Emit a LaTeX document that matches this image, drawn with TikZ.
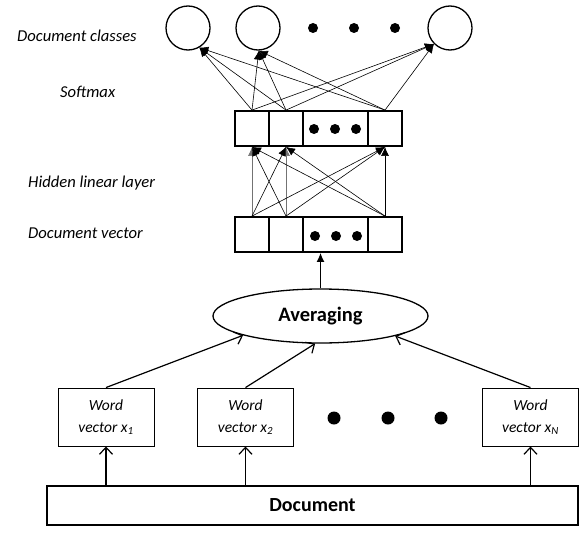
\documentclass[tikz,border=0pt]{standalone}
\usepackage{fontspec}
\setmainfont{Carlito}
\usepackage{tikz}
\usetikzlibrary{arrows.meta}
\usetikzlibrary{shapes}
\usetikzlibrary{positioning}

\tikzset{
  layerlabel/.style={anchor=west, inner sep=0pt, font=\itshape\fontsize{16.6}{18}\selectfont},
  classnode/.style={draw, circle, line width=1.3pt, minimum size=44pt, inner sep=0pt},
  layerbox/.style={draw, line width=1.8pt, minimum width=167pt, minimum height=35pt, inner sep=0pt},
  cell/.style={draw, line width=1.8pt, minimum width=34pt, minimum height=35pt, inner sep=0pt},
  wordbox/.style={draw, line width=0.9pt, minimum width=96pt, minimum height=58pt, inner sep=0pt,
    align=center, font=\itshape\fontsize{15.5}{22}\selectfont},
  thinarrow/.style={line width=0.6pt, -{Latex[length=9pt,width=8pt]}},
  openarrow/.style={line width=1.2pt, -{Straight Barb[length=7pt,width=13pt,line width=1.2pt]}},
}

\begin{document}
\begin{tikzpicture}[x=1pt,y=-1pt]

  \useasboundingbox (0,0) rectangle (585,532);

  % Layer names on the left
  \node[layerlabel] (lclasses) at (17,36) {Document classes};
  \node[layerlabel] (lsoftmax) at (60,92) {Softmax};
  \node[layerlabel] (lhidden) at (28,183) {Hidden linear layer};
  \node[layerlabel] (ldocvec) at (28,233) {Document vector};

  % Document classes
  \node[classnode] (c1) at (188,28) {};
  \node[classnode] (c2) at (258,28) {};
  \node[classnode] (c3) at (450,28) {};
  \fill (313,28) circle (5) (354,28) circle (5) (395,28) circle (5);

  % Hidden linear layer
  \node[layerbox] (hlayer) at (318.5,128.5) {};
  \node[cell] (h1) at (252,128.5) {};
  \node[cell] (h2) at (286,128.5) {};
  \node[cell] (h4) at (385,128.5) {};
  \fill (314,129) circle (5) (335,129) circle (5) (356,129) circle (5);

  % Document vector
  \node[layerbox] (dlayer) at (318.5,234.5) {};
  \node[cell] (d1) at (252,234.5) {};
  \node[cell] (d2) at (286,234.5) {};
  \node[cell] (d4) at (385,234.5) {};
  \fill (315,236) circle (5) (336,236) circle (5) (357,236) circle (5);

  % Softmax connections
  \foreach \c/\a in {c1/-60, c2/-88, c3/-135}
    \foreach \h in {h1, h2, h4}
      \draw[thinarrow] (\h.north) -- (\c.\a);

  % Hidden layer connections (straight ones are lighter)
  \draw[thinarrow, black!55] (d1.north) -- (h1.south);
  \draw[thinarrow, black!55] (d2.north) -- (h2.south);
  \foreach \d/\h in {d1/h2, d1/h4, d2/h1, d2/h4, d4/h1, d4/h2, d4/h4}
    \draw[thinarrow] (\d.north) -- (\h.south);

  % Averaging
  \node[draw, ellipse, line width=1.3pt, minimum width=215pt, minimum height=54pt, inner sep=0pt,
    font=\bfseries\fontsize{20.5}{22}\selectfont] (avg) at (320.5,316) {Averaging};
  \draw[line width=1.3pt, -{Latex[length=9pt,width=8pt]}] (avg.north) -- (avg.north |- dlayer.south);

  % Word vectors
  \node[wordbox] (w1) at (106,417) {Word\\vector x\textsubscript{1}};
  \node[wordbox] (w2) at (245.5,417) {Word\\vector x\textsubscript{2}};
  \node[wordbox] (wN) at (530.5,417) {Word\\vector x\textsubscript{N}};
  \fill (334,418) circle (6.5) (388,418) circle (6.5) (441,418) circle (6.5);

  \draw[openarrow] (w1.north) -- (avg.194);
  \draw[openarrow] (w2.north) -- (avg.259);
  \draw[openarrow] (wN.north) -- (avg.345);

  % Document
  \node[draw, line width=1.1pt, minimum width=531pt, minimum height=39pt, inner sep=0pt,
    font=\bfseries\fontsize{20}{22}\selectfont] (doc) at (312.5,505.5) {Document};

  \draw[openarrow] (w1.south |- doc.north) -- (w1.south);
  \draw[openarrow] (w2.south |- doc.north) -- (w2.south);
  \draw[openarrow] (wN.south |- doc.north) -- (wN.south);

\end{tikzpicture}
\end{document}
